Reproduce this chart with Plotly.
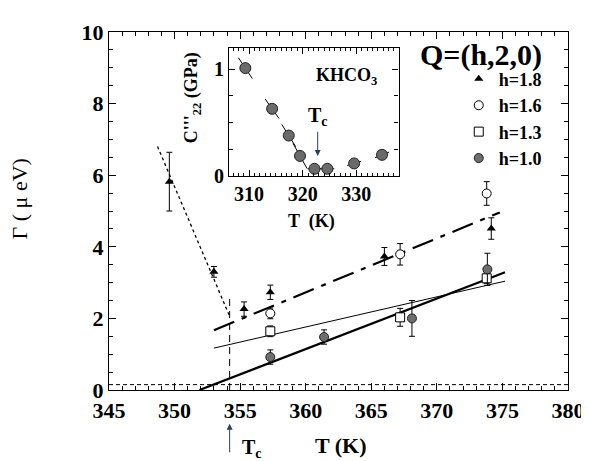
import plotly.graph_objects as go

FONT = '"Liberation Serif", "Times New Roman", Times, serif'

# ---- main data: Γ vs T for Q=(h,2,0) ----
T18 = [349.6, 353.0, 355.3, 357.3, 366.0, 374.15]
G18 = [5.82, 3.3, 2.26, 2.73, 3.73, 4.51]
E18 = [0.82, 0.15, 0.2, 0.2, 0.25, 0.3]

T16 = [357.3, 367.2, 373.8]
G16 = [2.14, 3.79, 5.49]
E16 = [0.15, 0.3, 0.33]

T13 = [357.3, 367.2, 373.8]
G13 = [1.64, 2.03, 3.12]
E13 = [0.15, 0.25, 0.15]

T10 = [357.3, 361.4, 368.1, 373.85]
G10 = [0.92, 1.48, 2.0, 3.37]
E10 = [0.2, 0.2, 0.5, 0.45]

# fit lines
fit_dashdot_T = [353.0, 374.8]
fit_dashdot_G = [1.67, 4.96]
fit_thin_T = [353.0, 375.2]
fit_thin_G = [1.17, 3.04]
fit_thick_T = [351.9, 375.2]
fit_thick_G = [0.0, 3.29]
dotted_T = [348.7, 354.2]
dotted_G = [6.8, 2.06]
Tc_main = 354.2
Tc_line_G = [0.0, 2.6]
baseline_G = 0.15
x_range = [345, 380]
y_range = [0, 10]

# ---- inset data: C'''22 vs T ----
Ti = [309.3, 314.3, 317.4, 319.5, 322.2, 324.6, 329.6, 334.8]
Ci = [1.01, 0.63, 0.38, 0.19, 0.07, 0.07, 0.12, 0.20]
Si = [-0.075, -0.07, -0.08, -0.09, 0.0, 0.0, 0.015, 0.02]
Tc_inset = 322.8

fig = go.Figure()

# main fit / guide lines
fig.add_trace(go.Scatter(x=x_range, y=[baseline_G, baseline_G], mode="lines",
                         line=dict(color="black", width=1, dash="4px,3px"), showlegend=False))
fig.add_trace(go.Scatter(x=[Tc_main, Tc_main], y=Tc_line_G, mode="lines",
                         line=dict(color="black", width=1, dash="7px,5px"), showlegend=False))
fig.add_trace(go.Scatter(x=dotted_T, y=dotted_G, mode="lines",
                         line=dict(color="black", width=1.3, dash="dot"), showlegend=False))
fig.add_trace(go.Scatter(x=fit_dashdot_T, y=fit_dashdot_G, mode="lines",
                         line=dict(color="black", width=2.2, dash="22px,8px,5px,8px"), showlegend=False))
fig.add_trace(go.Scatter(x=fit_thin_T, y=fit_thin_G, mode="lines",
                         line=dict(color="black", width=1), showlegend=False))
fig.add_trace(go.Scatter(x=fit_thick_T, y=fit_thick_G, mode="lines",
                         line=dict(color="black", width=2.2), showlegend=False))

eb = dict(type="data", visible=True, color="black", thickness=1, width=3)

fig.add_trace(go.Scatter(x=T18, y=G18, mode="markers", name="h=1.8",
                         error_y=dict(array=E18, **eb),
                         marker=dict(symbol="triangle-up", size=8, color="black")))
fig.add_trace(go.Scatter(x=T16, y=G16, mode="markers", name="h=1.6",
                         error_y=dict(array=E16, **eb),
                         marker=dict(symbol="circle", size=9, color="white",
                                     line=dict(color="black", width=1))))
fig.add_trace(go.Scatter(x=T13, y=G13, mode="markers", name="h=1.3",
                         error_y=dict(array=E13, **eb),
                         marker=dict(symbol="square", size=9, color="white",
                                     line=dict(color="black", width=1))))
fig.add_trace(go.Scatter(x=T10, y=G10, mode="markers", name="h=1.0",
                         error_y=dict(array=E10, **eb),
                         marker=dict(symbol="circle", size=9, color="#6e6e6e",
                                     line=dict(color="#222", width=1))))

# inset tangent segments
half = 1.3
for t, c, s in zip(Ti, Ci, Si):
    fig.add_trace(go.Scatter(x=[t - half, t + half], y=[c - s * half, c + s * half],
                             mode="lines", line=dict(color="black", width=1),
                             xaxis="x2", yaxis="y2", showlegend=False))
fig.add_trace(go.Scatter(x=Ti, y=Ci, mode="markers", xaxis="x2", yaxis="y2", showlegend=False,
                         marker=dict(symbol="circle", size=11, color="#6a6a6a",
                                     line=dict(color="#222", width=1))))

axis_common = dict(showline=True, linecolor="black", linewidth=1.3, mirror="ticks",
                   ticks="inside", tickcolor="black", showgrid=False, zeroline=False)

BIG = dict(family=FONT, size=22, weight=700)
MID = dict(family=FONT, size=20, weight=700)

fig.update_layout(
    width=589, height=461,
    margin=dict(l=101, r=22, t=22, b=79),
    paper_bgcolor="white", plot_bgcolor="white",
    font=dict(family=FONT, color="black"),
    xaxis=dict(range=x_range, dtick=5, ticklen=7, tickfont=BIG,
               minor=dict(dtick=1, ticks="inside", ticklen=4, tickcolor="black"),
               **axis_common),
    yaxis=dict(range=y_range, dtick=2, ticklen=7, tickfont=BIG,
               minor=dict(dtick=0.5, ticks="inside", ticklen=4, tickcolor="black"),
               **axis_common),
    xaxis2=dict(domain=[0.262, 0.631], anchor="y2", range=[306.3, 337.9],
                tickvals=[310, 320, 330], ticklen=6, tickfont=MID,
                minor=dict(dtick=1, ticks="inside", ticklen=3, tickcolor="black"),
                **axis_common),
    yaxis2=dict(domain=[0.597, 0.956], anchor="x2", range=[0, 1.2],
                tickvals=[0, 1], ticklen=6, tickfont=MID,
                minor=dict(dtick=0.25, ticks="inside", ticklen=4, tickcolor="black"),
                **axis_common),
    legend=dict(x=0.762, y=0.92, xanchor="left", yanchor="top",
                bgcolor="rgba(0,0,0,0)", font=dict(family=FONT, size=18, weight=700),
                tracegroupgap=0, itemwidth=30),
    showlegend=True,
)


def px_x(p):
    return (p - 101) / 466


def px_y(p):
    return (382 - p) / 360


ann = []
ann.append(dict(text="Q=(h,2,0)", xref="paper", yref="paper", x=px_x(479), y=px_y(45),
                xanchor="center", yanchor="middle",
                showarrow=False, font=dict(family=FONT, size=30, weight=700)))
ann.append(dict(text="Γ ( μ eV)", xref="paper", yref="paper", x=px_x(10), y=px_y(190),
                xanchor="center", yanchor="middle",
                textangle=-90, showarrow=False, font=dict(family=FONT, size=22)))
ann.append(dict(text="T (K)", xref="paper", yref="paper", x=px_x(337), y=px_y(438),
                xanchor="center", yanchor="middle",
                showarrow=False, font=dict(family=FONT, size=22, weight=700)))
ann.append(dict(text="", x=Tc_main, xref="x", yref="paper", y=px_y(416),
                ax=0, ay=30, showarrow=True, arrowhead=2, arrowsize=1.2, arrowwidth=1))
ann.append(dict(text="T<sub>c</sub>", xref="paper", yref="paper", x=px_x(246), y=px_y(441),
                xanchor="center", yanchor="middle", showarrow=False,
                font=dict(family=FONT, size=20, weight=700)))
# inset texts
ann.append(dict(text="KHCO<sub>3</sub>", xref="x2", yref="y2", x=328.2, y=0.93,
                xanchor="center", yanchor="middle",
                showarrow=False, font=dict(family=FONT, size=18, weight=700)))
ann.append(dict(text="T<sub>c</sub>", xref="x2", yref="y2", x=Tc_inset, y=0.56,
                xanchor="center", yanchor="middle",
                showarrow=False, font=dict(family=FONT, size=20, weight=700)))
ann.append(dict(text="", x=Tc_inset, y=0.19, xref="x2", yref="y2", axref="x2", ayref="y2",
                ax=Tc_inset, ay=0.43, showarrow=True, arrowhead=2, arrowsize=1.2, arrowwidth=1))
ann.append(dict(text="T  (K)", xref="paper", yref="paper", x=px_x(307), y=px_y(213),
                xanchor="center", yanchor="middle",
                showarrow=False, font=dict(family=FONT, size=18, weight=700)))
ann.append(dict(text="C'''<sub>22</sub> (GPa)", xref="paper", yref="paper", x=px_x(186),
                y=px_y(88), xanchor="center", yanchor="middle", textangle=-90, showarrow=False,
                font=dict(family=FONT, size=18, weight=700)))
fig.update_layout(annotations=ann)

fig.write_html("out.html")
